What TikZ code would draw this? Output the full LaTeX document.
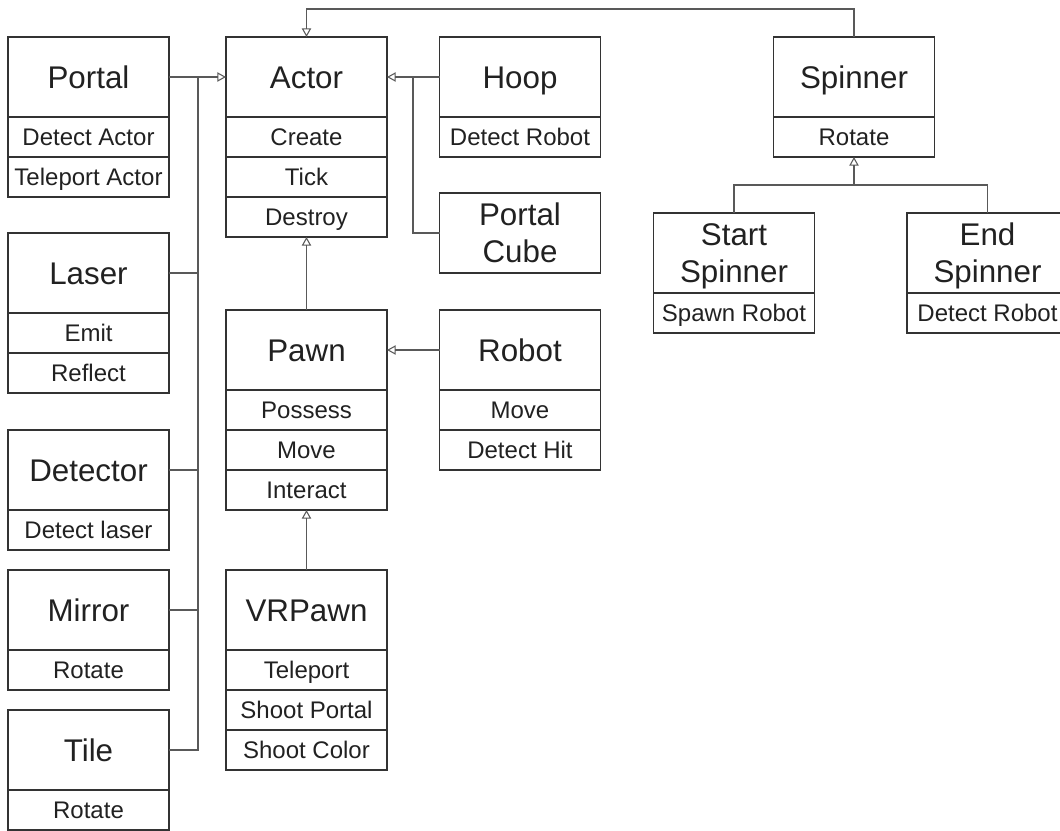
\documentclass[tikz,border=0pt]{standalone}
\usepackage{fontspec}
\setmainfont{Liberation Sans}
\usetikzlibrary{arrows.meta, positioning}
\definecolor{boxline}{rgb}{0.2, 0.2, 0.2}
\definecolor{linkline}{rgb}{0.35, 0.35, 0.35}
\definecolor{labeltext}{rgb}{0.13, 0.13, 0.13}
\tikzstyle{classtitle} = [rectangle, draw=boxline, line width=0.9pt, minimum width=120.75pt, minimum height=60pt, inner sep=0pt, outer sep=0pt, align=center, text=labeltext, text height=16.8pt, text depth=0pt, font=\fontsize{23.5}{27.5}\selectfont]
\tikzstyle{twoline} = [text height=44.3pt]
\tikzstyle{method} = [rectangle, draw=boxline, line width=0.9pt, minimum width=120.75pt, minimum height=30pt, inner sep=0pt, outer sep=0pt, text=labeltext, text height=12.8pt, text depth=0pt, font=\fontsize{18}{21}\selectfont]
\tikzstyle{link} = [draw=linkline, line width=0.8pt]
\tikzstyle{inherit} = [link, -{Triangle[open, length=6.5pt, width=7pt]}]

\begin{document}
\begin{tikzpicture}[x=0.75pt, y=-0.75pt]
\clip (0,0) rectangle (1060,831);

% left column
\node (portal) [classtitle] at (88.5,77) {Portal};
\node (portal1) [method, below=0pt of portal] {Detect Actor};
\node (portal2) [method, below=0pt of portal1] {Teleport Actor};

\node (laser) [classtitle] at (88.5,273) {Laser};
\node (laser1) [method, below=0pt of laser] {Emit};
\node (laser2) [method, below=0pt of laser1] {Reflect};

\node (detector) [classtitle] at (88.5,470) {Detector};
\node (detector1) [method, below=0pt of detector] {Detect laser};

\node (mirror) [classtitle] at (88.5,610) {Mirror};
\node (mirror1) [method, below=0pt of mirror] {Rotate};

\node (tile) [classtitle] at (88.5,750) {Tile};
\node (tile1) [method, below=0pt of tile] {Rotate};

% middle column
\node (actor) [classtitle] at (306.5,77) {Actor};
\node (actor1) [method, below=0pt of actor] {Create};
\node (actor2) [method, below=0pt of actor1] {Tick};
\node (actor3) [method, below=0pt of actor2] {Destroy};

\node (pawn) [classtitle] at (306.5,350) {Pawn};
\node (pawn1) [method, below=0pt of pawn] {Possess};
\node (pawn2) [method, below=0pt of pawn1] {Move};
\node (pawn3) [method, below=0pt of pawn2] {Interact};

\node (vrpawn) [classtitle] at (306.5,610) {VRPawn};
\node (vrpawn1) [method, below=0pt of vrpawn] {Teleport};
\node (vrpawn2) [method, below=0pt of vrpawn1] {Shoot Portal};
\node (vrpawn3) [method, below=0pt of vrpawn2] {Shoot Color};

\node (hoop) [classtitle] at (520,77) {Hoop};
\node (hoop1) [method, below=0pt of hoop] {Detect Robot};

\node (cube) [classtitle, twoline] at (520,233) {Portal\\Cube};

\node (robot) [classtitle] at (520,350) {Robot};
\node (robot1) [method, below=0pt of robot] {Move};
\node (robot2) [method, below=0pt of robot1] {Detect Hit};

% spinners
\node (spinner) [classtitle] at (854,77) {Spinner};
\node (spinner1) [method, below=0pt of spinner] {Rotate};

\node (startsp) [classtitle, twoline] at (734,253) {Start\\Spinner};
\node (startsp1) [method, below=0pt of startsp] {Spawn Robot};

\node (endsp) [classtitle, twoline] at (987.5,253) {End\\Spinner};
\node (endsp1) [method, below=0pt of endsp] {Detect Robot};

% connectors
\coordinate (bus) at (198,77);
\coordinate (hoopjoin) at (413,77);
\coordinate (spinjoin) at (854,185);

\draw[inherit] (portal.east) -- (actor.west);
\draw[link] (laser.east) -| (bus);
\draw[link] (detector.east) -| (bus);
\draw[link] (mirror.east) -| (bus);
\draw[link] (tile.east) -| (bus);

\draw[inherit] (hoop.west) -- (actor.east);
\draw[link] (cube.west) -| (hoopjoin);

\draw[inherit] (pawn.north) -- (actor3.south);
\draw[inherit] (vrpawn.north) -- (pawn3.south);
\draw[inherit] (robot.west) -- (pawn.east);

\draw[inherit] (spinner.north) -- ++(0,-28) -| (actor.north);
\draw[inherit] (spinjoin) -- (spinner1.south);
\draw[link] (startsp.north) |- (spinjoin) -| (endsp.north);

\end{tikzpicture}
\end{document}
